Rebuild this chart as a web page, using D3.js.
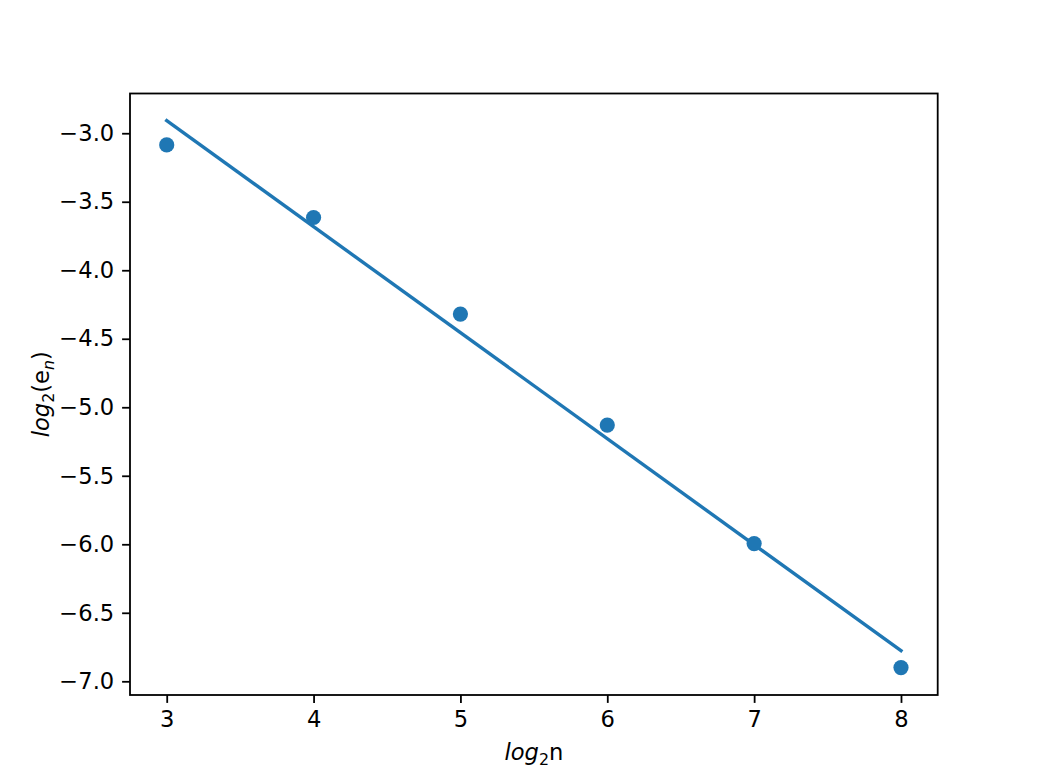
<!DOCTYPE html>
<html>
<head>
<meta charset="utf-8">
<script src="https://cdn.jsdelivr.net/npm/d3@7"></script>
<style>
  html, body { margin: 0; padding: 0; background: #fff; }
  svg { display: block; }
  text { font-family: "DejaVu Sans", sans-serif; }
</style>
</head>
<body>
<svg id="chart" width="1042" height="781"></svg>
<script>
// Data
const logN = [3, 4, 5, 6, 7, 8];
const logErr = [-3.085, -3.615, -4.32, -5.13, -5.995, -6.90];
// Fitted line endpoints
const fitX = [3, 8];
const fitY = [-2.908, -6.777];
const xTicks = [3, 4, 5, 6, 7, 8];
const yTicks = [-3.0, -3.5, -4.0, -4.5, -5.0, -5.5, -6.0, -6.5, -7.0];

const W = 1042, H = 781;
const m = { left: 130, top: 93.5, right: 937.7, bottom: 695 };
const color = "#1f77b4";
const fs = 22.6;

const svg = d3.select("#chart");

const x = d3.scaleLinear().domain([2.75, 8.25]).range([m.left, m.right]);
const y = d3.scaleLinear().domain([-7.1, -2.71]).range([m.bottom, m.top]);

const g = svg.append("g");

// Fit line
g.append("path")
  .datum(fitX.map((d, i) => [d, fitY[i]]))
  .attr("d", d3.line().x(d => x(d[0])).y(d => y(d[1])))
  .attr("fill", "none")
  .attr("stroke", color)
  .attr("stroke-width", 3.4)
  .attr("stroke-linecap", "square");

// Points
g.selectAll("circle.pt")
  .data(logN.map((d, i) => [d, logErr[i]]))
  .join("circle")
  .attr("class", "pt")
  .attr("cx", d => x(d[0]))
  .attr("cy", d => y(d[1]))
  .attr("r", 7.6)
  .attr("fill", color);

// Axes
const fmt = d3.format(".1f");
const xAxis = d3.axisBottom(x).tickValues(xTicks).tickFormat(d3.format("d"))
  .tickSize(7.9).tickPadding(7.9).tickSizeOuter(0);
const yAxis = d3.axisLeft(y).tickValues(yTicks).tickFormat(d => fmt(d).replace("-", "\u2212"))
  .tickSize(7.9).tickPadding(7.9).tickSizeOuter(0);

const gx = svg.append("g").attr("transform", `translate(0,${m.bottom})`).call(xAxis);
const gy = svg.append("g").attr("transform", `translate(${m.left},0)`).call(yAxis);
[gx, gy].forEach(a => {
  a.select(".domain").remove();
  a.selectAll(".tick line").attr("stroke", "#000").attr("stroke-width", 1.8);
  a.selectAll(".tick text").attr("fill", "#000").style("font-size", fs + "px")
    .style("font-family", "DejaVu Sans, sans-serif");
});

// Frame
svg.append("rect")
  .attr("x", m.left).attr("y", m.top)
  .attr("width", m.right - m.left).attr("height", m.bottom - m.top)
  .attr("fill", "none").attr("stroke", "#000").attr("stroke-width", 1.8);

// X label: log_2 n
const xl = svg.append("text")
  .attr("x", (m.left + m.right) / 2).attr("y", 760)
  .attr("text-anchor", "middle")
  .style("font-size", fs + "px").attr("fill", "#000");
xl.append("tspan").attr("font-style", "italic").text("log");
xl.append("tspan").attr("dy", 4.5).style("font-size", (fs * 0.7) + "px").text("2");
xl.append("tspan").attr("dy", -4.5).text("n");

// Y label: log_2(e_n)
const yl = svg.append("text")
  .attr("transform", `translate(49,${(m.top + m.bottom) / 2}) rotate(-90)`)
  .attr("text-anchor", "middle")
  .style("font-size", fs + "px").attr("fill", "#000");
yl.append("tspan").attr("font-style", "italic").text("log");
yl.append("tspan").attr("dy", 4.5).style("font-size", (fs * 0.7) + "px").text("2");
yl.append("tspan").attr("dy", -4.5).text("(e");
yl.append("tspan").attr("dy", 4.5).attr("font-style", "italic").style("font-size", (fs * 0.7) + "px").text("n");
yl.append("tspan").attr("dy", -4.5).text(")");
</script>
</body>
</html>
